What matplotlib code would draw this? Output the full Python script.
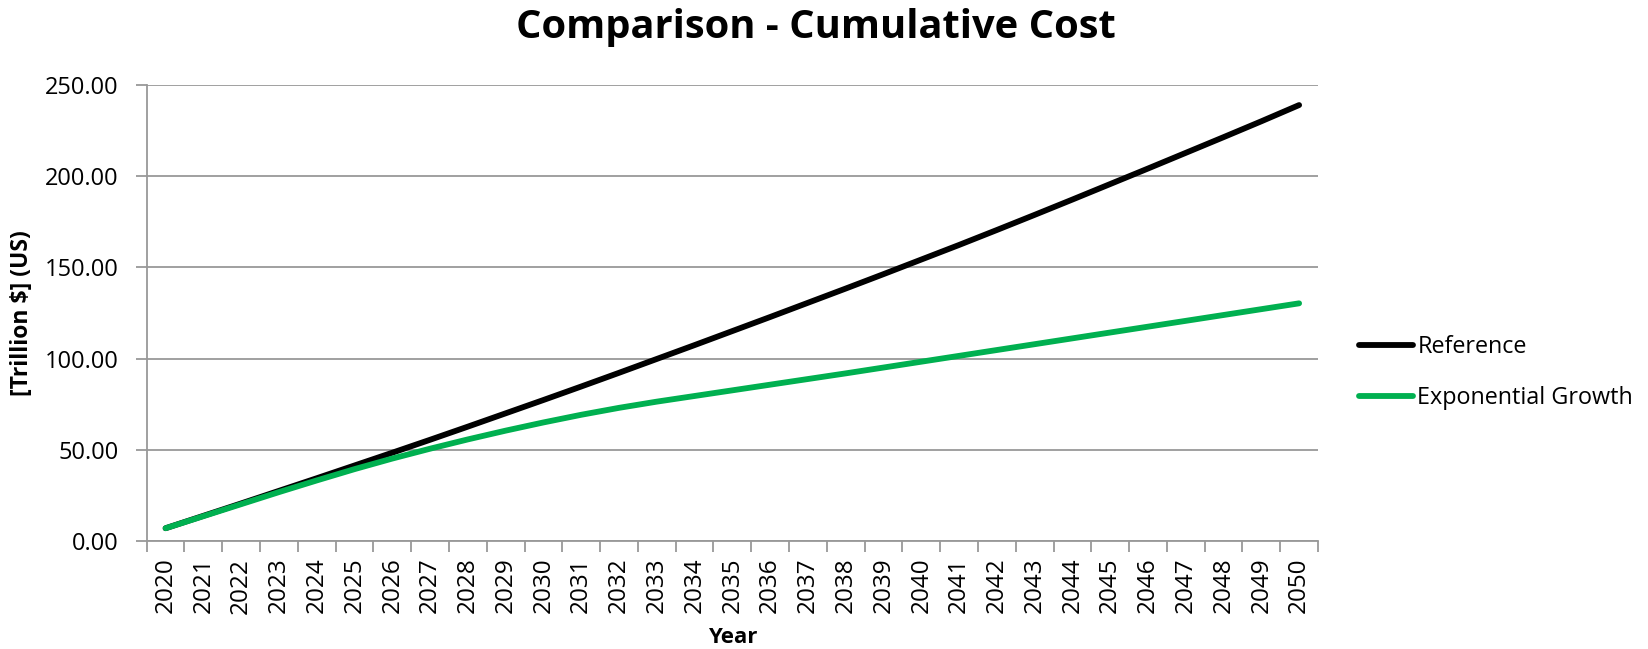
import matplotlib
matplotlib.use("Agg")
import matplotlib.pyplot as plt
from matplotlib.ticker import FixedLocator, FuncFormatter

plt.rcParams['font.family'] = ['Open Sans', 'DejaVu Sans']

years = list(range(2020, 2051))
reference = [7.0, 13.8, 20.6, 27.5, 34.4, 41.4, 48.4, 55.5, 62.7, 70.0,
             77.3, 84.7, 92.2, 99.8, 107.4, 115.1, 122.8, 130.6, 138.4, 146.3,
             154.3, 162.3, 170.5, 178.8, 187.2, 195.7, 204.2, 212.8, 221.4, 230.1,
             239.0]
exponential = [7.0, 13.6, 20.2, 26.8, 33.2, 39.4, 45.2, 50.6, 55.7, 60.5,
               65.0, 69.2, 73.0, 76.4, 79.5, 82.6, 85.7, 88.8, 91.9, 95.1,
               98.3, 101.5, 104.7, 107.9, 111.1, 114.3, 117.5, 120.7, 123.9, 127.1,
               130.3]
y_ticks = [0, 50, 100, 150, 200, 250]

GRID = "#999999"
GREEN = "#00B050"

fig = plt.figure(figsize=(16.48, 6.49), dpi=100)
ax = fig.add_axes([146.7 / 1648, 1 - 541 / 649, (1318 - 146.7) / 1648, (541 - 85) / 649])

x = list(range(len(years)))
ax.plot(x, reference, color="black", lw=4.2, solid_capstyle="round", label="Reference", zorder=3)
ax.plot(x, exponential, color=GREEN, lw=4.2, solid_capstyle="round", label="Exponential Growth", zorder=4)

ax.set_xlim(-0.5, len(years) - 0.5)
ax.set_ylim(0, 250)

# category boundaries carry the tick marks, centres carry the year labels
ax.xaxis.set_major_locator(FixedLocator([i - 0.5 for i in range(len(years) + 1)]))
ax.xaxis.set_major_formatter(FuncFormatter(lambda v, p: ""))
ax.xaxis.set_minor_locator(FixedLocator(x))
ax.xaxis.set_minor_formatter(FuncFormatter(lambda v, p: str(years[int(round(v))])))
ax.tick_params(axis="x", which="major", length=8, width=1.3, color=GRID, direction="out")
ax.tick_params(axis="x", which="minor", length=0, pad=12, labelsize=17.5, labelrotation=90)

ax.set_yticks(y_ticks)
ax.set_yticklabels([f"{v:.2f}" for v in y_ticks])
ax.tick_params(axis="y", length=8, width=1.3, color=GRID, direction="out", pad=12, labelsize=17)

ax.grid(axis="y", color=GRID, lw=1.3)
ax.set_axisbelow(True)
for side in ("top", "right"):
    ax.spines[side].set_visible(False)
for side in ("left", "bottom"):
    ax.spines[side].set_color(GRID)
    ax.spines[side].set_linewidth(1.3)

ax.set_xlabel("Year", fontsize=16, fontweight="bold", labelpad=10)
ax.set_ylabel("[Trillion $] (US)", fontsize=16.5, fontweight="bold", labelpad=8)

fig.text(0.495, 0.957, "Comparison - Cumulative Cost", ha="center", va="center",
         fontsize=28.7, fontweight="bold")

fig.legend(loc="center left", bbox_to_anchor=(1359 / 1648, 1 - 372.5 / 649),
           frameon=False, fontsize=16.8, handlelength=2.3, handletextpad=0.2,
           labelspacing=1.15, borderpad=0, borderaxespad=0)

fig.savefig("out.png", dpi=100)
